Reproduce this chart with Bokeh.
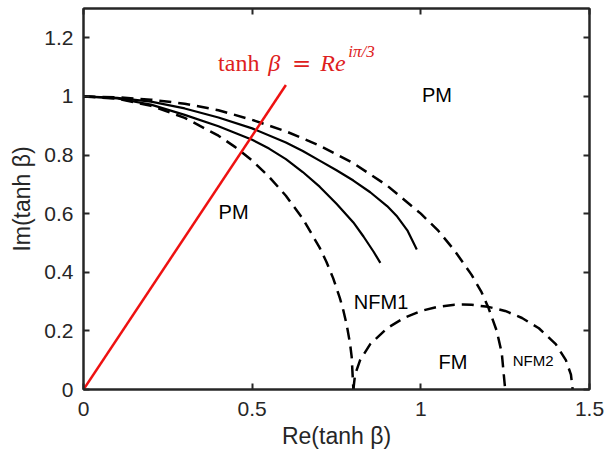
from bokeh.plotting import figure
from bokeh.models import Range1d, FixedTicker, LinearAxis, Label
from bokeh.embed import file_html
from bokeh.resources import INLINE

# ---- data ----
x_ticks = [0, 0.5, 1, 1.5]
x_tick_labels = ["0", "0.5", "1", "1.5"]
y_ticks = [0, 0.2, 0.4, 0.6, 0.8, 1.0, 1.2]
y_tick_labels = ["0", "0.2", "0.4", "0.6", "0.8", "1", "1.2"]

# inner dashed boundary (PM / NFM1)
inner_x = [0, 0.1, 0.2, 0.3, 0.4, 0.45, 0.5, 0.55, 0.6, 0.65, 0.7, 0.72, 0.74, 0.76, 0.77, 0.78, 0.79, 0.795, 0.8]
inner_y = [1, 0.992, 0.968, 0.927, 0.866, 0.827, 0.781, 0.726, 0.661, 0.583, 0.484, 0.436, 0.38, 0.312, 0.271, 0.222, 0.158, 0.111, 0]

# outer dashed boundary
outer_x = [0, 0.1, 0.2, 0.3, 0.4, 0.5, 0.6, 0.7, 0.8, 0.9, 1.0, 1.05, 1.1, 1.15, 1.18, 1.2, 1.225, 1.24, 1.25]
outer_y = [1, 0.997, 0.989, 0.975, 0.953, 0.92, 0.881, 0.832, 0.772, 0.696, 0.6, 0.544, 0.474, 0.392, 0.332, 0.28, 0.2, 0.124, 0]

# dome (FM boundary)
dome_x = [0.8, 0.805, 0.82, 0.85, 0.9, 0.95, 1.0, 1.05, 1.1, 1.125, 1.15, 1.2, 1.25, 1.3, 1.35, 1.4, 1.43, 1.445, 1.45]
dome_y = [0, 0.051, 0.1, 0.155, 0.209, 0.244, 0.268, 0.282, 0.289, 0.29, 0.289, 0.282, 0.268, 0.244, 0.209, 0.155, 0.1, 0.051, 0]

# solid curves
upper_x = [0, 0.1, 0.2, 0.3, 0.4, 0.5, 0.6, 0.65, 0.7, 0.75, 0.8, 0.85, 0.9, 0.93, 0.96, 0.988]
upper_y = [1, 0.995, 0.982, 0.959, 0.928, 0.891, 0.843, 0.814, 0.781, 0.748, 0.713, 0.673, 0.626, 0.59, 0.543, 0.478]
lower_x = [0, 0.1, 0.2, 0.3, 0.4, 0.5, 0.55, 0.6, 0.65, 0.7, 0.75, 0.8, 0.83, 0.86, 0.88]
lower_y = [1, 0.993, 0.972, 0.937, 0.898, 0.852, 0.822, 0.786, 0.742, 0.692, 0.634, 0.570, 0.522, 0.47, 0.432]

# red ray tanh(beta) = R e^{i pi/3}
red_x = [0, 0.6]
red_y = [0, 1.039]

INK = "#262626"
FONT = "Liberation Sans"
SERIF = "Liberation Serif"
RED_TEXT = "#de2020"

p = figure(width=615, height=459, x_range=Range1d(0, 1.5), y_range=Range1d(0, 1.3),
           output_backend="svg", toolbar_location=None,
           min_border_left=83, min_border_right=26, min_border_top=8, min_border_bottom=70)
p.grid.visible = False
p.outline_line_color = INK
p.outline_line_width = 2
p.outline_line_alpha = 1
p.background_fill_color = "white"
p.border_fill_color = "white"

def style_axis(ax, ticks, labels, show_labels=True):
    ax.ticker = FixedTicker(ticks=ticks, minor_ticks=[])
    ax.major_tick_in = 6
    ax.major_tick_out = 0
    ax.minor_tick_line_color = None
    ax.major_tick_line_color = INK
    ax.major_tick_line_width = 2
    ax.axis_line_color = INK
    ax.axis_line_width = 2
    ax.major_label_overrides = dict(zip(ticks, labels))
    ax.major_label_text_font = FONT
    ax.major_label_text_color = INK
    if show_labels:
        ax.major_label_text_font_size = "21px"
    else:
        ax.major_label_text_font_size = "0px"
        ax.major_label_standoff = 0

xa = p.xaxis[0]
ya = p.yaxis[0]
style_axis(xa, x_ticks, x_tick_labels)
style_axis(ya, y_ticks, y_tick_labels)
xa.major_label_standoff = 12
ya.major_label_standoff = 10
xa.axis_label = "Re(tanh β)"
ya.axis_label = "Im(tanh β)"
for ax in (xa, ya):
    ax.axis_label_text_font = FONT
    ax.axis_label_text_font_size = "23px"
    ax.axis_label_text_font_style = "normal"
    ax.axis_label_text_color = INK
xa.axis_label_standoff = 4
ya.axis_label_standoff = 6

top = LinearAxis()
style_axis(top, x_ticks, [""] * len(x_ticks), show_labels=False)
p.add_layout(top, "above")
right = LinearAxis()
style_axis(right, y_ticks, [""] * len(y_ticks), show_labels=False)
p.add_layout(right, "right")

DASH = "12 7"
p.line(outer_x, outer_y, line_color="black", line_width=2.5, line_dash=DASH)
p.line(inner_x, inner_y, line_color="black", line_width=2.5, line_dash=DASH)
p.line(dome_x, dome_y, line_color="black", line_width=2.5, line_dash=DASH)
p.line(upper_x, upper_y, line_color="black", line_width=2.2)
p.line(lower_x, lower_y, line_color="black", line_width=2.2)
p.line(red_x, red_y, line_color="#ee1111", line_width=2.5)

def lab(x, y, t, size, align="center", color="black", font=FONT, style="normal"):
    p.add_layout(Label(x=x, y=y, text=t, text_font=font, text_font_size=size,
                       text_align=align, text_baseline="alphabetic",
                       text_color=color, text_font_style=style))

lab(1.048, 1.005, "PM", "20px")
lab(0.445, 0.605, "PM", "20px")
lab(0.882, 0.297, "NFM1", "20px")
lab(1.095, 0.094, "FM", "20px")
lab(1.333, 0.099, "NFM2", "15px")

# red formula label
lab(0.399, 1.114, "tanh", "24px", align="left", color=RED_TEXT, font=SERIF)
lab(0.548, 1.114, "β", "24px", align="left", color=RED_TEXT, font=SERIF, style="italic")
lab(0.618, 1.114, "=", "23px", align="left", color=RED_TEXT, font="DejaVu Serif")
lab(0.702, 1.114, "Re", "24px", align="left", color=RED_TEXT, font=SERIF, style="italic")
lab(0.785, 1.154, "iπ/3", "17px", align="left", color=RED_TEXT, font=SERIF, style="italic")

open("out.html", "w").write(file_html(p, INLINE))
